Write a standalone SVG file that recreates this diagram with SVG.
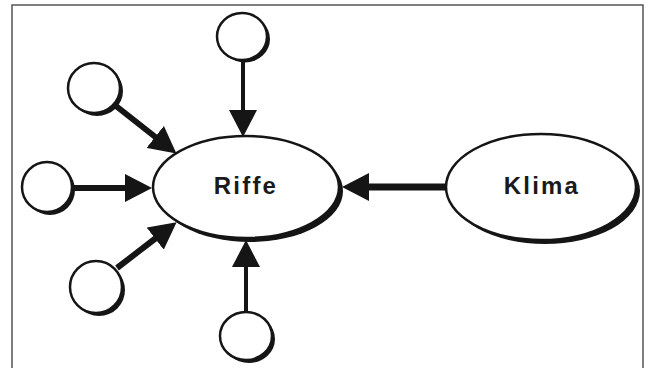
<svg xmlns="http://www.w3.org/2000/svg" width="650" height="368" viewBox="0 0 650 368">
<defs>
<style>
.frame{fill:none;stroke:#555;stroke-width:1.5}
.sh{fill:#151515}
.nd{fill:#fff;stroke:#151515;stroke-width:2.5}
.lbl{font-family:"Liberation Sans",Arial,sans-serif;font-weight:bold;font-size:24px;letter-spacing:2.2px;fill:#1a1a1a;text-anchor:middle}
.thin{stroke:#151515;stroke-width:4;fill:none}
.thick{stroke:#151515;stroke-width:6;fill:none}
.thicker{stroke:#151515;stroke-width:7;fill:none}
</style>
<marker id="ah" markerUnits="userSpaceOnUse" markerWidth="28" markerHeight="28" viewBox="0 0 28 28" refX="1" refY="14" orient="auto">
<path d="M0,0 L27,14 L0,28 Z" fill="#151515"/>
</marker>
</defs>
<rect class="frame" x="12" y="5" width="631" height="370"/>
<g id="connectors">
<line class="thin" x1="243" y1="60" x2="243" y2="111" marker-end="url(#ah)"/>
<line class="thick" x1="116" y1="106" x2="156" y2="137.5" marker-end="url(#ah)"/>
<line class="thick" x1="72" y1="188" x2="126" y2="188" marker-end="url(#ah)"/>
<line class="thick" x1="117" y1="268" x2="156" y2="238" marker-end="url(#ah)"/>
<line class="thin" x1="246" y1="311" x2="246" y2="266" marker-end="url(#ah)"/>
<line class="thicker" x1="446" y1="187" x2="368" y2="187" marker-end="url(#ah)"/>
</g>
<g id="riffe">
<ellipse class="sh" cx="250" cy="191" rx="93" ry="51"/>
<ellipse class="nd" cx="246" cy="187" rx="93" ry="51"/>
<text class="lbl" x="246" y="194">Riffe</text>
</g>
<g id="klima">
<ellipse class="sh" cx="545" cy="191" rx="95" ry="53"/>
<ellipse class="nd" cx="541" cy="187" rx="95" ry="53"/>
<text class="lbl" x="542" y="194">Klima</text>
</g>
<g id="c-top">
<ellipse class="sh" cx="245" cy="39" rx="25" ry="23.5"/>
<ellipse class="nd" cx="242" cy="36.5" rx="25" ry="23.5"/>
</g>
<g id="c-upperleft">
<ellipse class="sh" cx="97" cy="91" rx="26" ry="25"/>
<ellipse class="nd" cx="94" cy="88" rx="26" ry="25"/>
</g>
<g id="c-left">
<ellipse class="sh" cx="50" cy="190" rx="25" ry="25"/>
<ellipse class="nd" cx="47" cy="187" rx="25" ry="25"/>
</g>
<g id="c-lowerleft">
<ellipse class="sh" cx="99" cy="290" rx="26" ry="26"/>
<ellipse class="nd" cx="96" cy="287" rx="26" ry="26"/>
</g>
<g id="c-bottom">
<ellipse class="sh" cx="249" cy="339" rx="26" ry="24"/>
<ellipse class="nd" cx="246" cy="336" rx="26" ry="24"/>
</g>
</svg>
